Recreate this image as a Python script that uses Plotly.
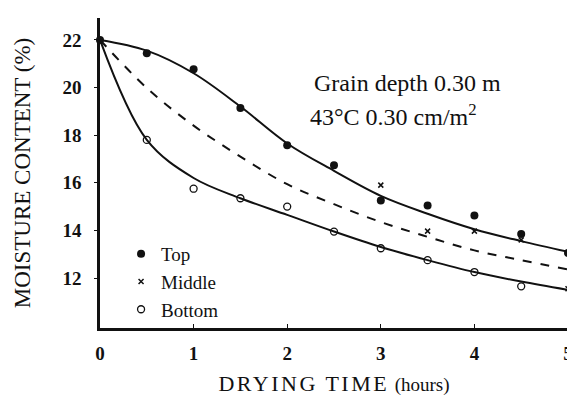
import plotly.graph_objs as go

# drying time (hours) for the smooth curves
time = [0, 0.5, 1, 1.5, 2, 2.5, 3, 3.5, 4, 4.5, 5]
top_curve = [22.0, 21.55, 20.6, 19.2, 17.65, 16.5, 15.45, 14.7, 14.05, 13.55, 13.1]
middle_curve = [22.0, 19.98, 18.4, 17.1, 15.94, 15.1, 14.35, 13.73, 13.16, 12.75, 12.36]
bottom_curve = [22.0, 17.8, 16.2, 15.35, 14.65, 13.95, 13.3, 12.75, 12.25, 11.85, 11.5]

# measured points
top_t = [0, 0.5, 1, 1.5, 2, 2.5, 3, 3.5, 4, 4.5, 5]
top_mc = [22.0, 21.44, 20.77, 19.14, 17.58, 16.74, 15.26, 15.05, 14.63, 13.85, 13.05]
mid_t = [3, 3.5, 4, 4.5, 5]
mid_mc = [15.9, 13.97, 13.97, 13.6, 11.55]
bot_t = [0.5, 1, 1.5, 2, 2.5, 3, 3.5, 4, 4.5]
bot_mc = [17.8, 15.75, 15.35, 15.0, 13.95, 13.25, 12.75, 12.25, 11.65]

y_ticks = [12, 14, 16, 18, 20, 22]
x_ticks = [0, 1, 2, 3, 4, 5]

serif = 'Liberation Serif'
ink = '#111111'


def curve(y, dash):
    return go.Scatter(x=time, y=y, mode='lines', showlegend=False,
                      line=dict(color=ink, width=2, dash=dash, shape='spline', smoothing=1))


data = [
    curve(top_curve, 'solid'),
    curve(middle_curve, 'dash'),
    curve(bottom_curve, 'solid'),
    go.Scatter(x=top_t, y=top_mc, mode='markers', name='Top', cliponaxis=False,
               marker=dict(symbol='circle', size=8, color=ink)),
    go.Scatter(x=mid_t, y=mid_mc, mode='markers', name='Middle', cliponaxis=False,
               marker=dict(symbol='x-thin', size=5, color=ink, line=dict(color=ink, width=1.5))),
    go.Scatter(x=bot_t, y=bot_mc, mode='markers', name='Bottom', cliponaxis=False,
               marker=dict(symbol='circle-open', size=7, color=ink, line=dict(width=1.3))),
]

# the page body adds an 8px offset, so the figure is 8px smaller than the window
layout = go.Layout(
    width=567, height=390,
    margin=dict(l=92, r=7, t=10, b=70),
    paper_bgcolor='white', plot_bgcolor='white',
    font=dict(family=serif, color=ink, size=17),
    showlegend=True,
    legend=dict(x=0.045, y=0.30, xanchor='left', yanchor='top', bgcolor='rgba(0,0,0,0)',
                font=dict(size=19, family=serif), itemwidth=30, tracegroupgap=0),
    xaxis=dict(range=[0, 5], tickvals=x_ticks, automargin=False,
               showgrid=False, zeroline=False, showline=True, linecolor=ink, linewidth=2.5,
               ticks='inside', ticklen=4, tickcolor=ink, ticklabelstandoff=6,
               tickfont=dict(size=19, family=serif, weight='bold'),
               title=dict(text='<span style="letter-spacing:2.5px">DRYING TIME</span> '
                               '<span style="font-size:19px">(hours)</span>',
                          font=dict(size=22, family=serif), standoff=14)),
    yaxis=dict(range=[9.9, 22.92], tickvals=y_ticks, automargin=False,
               showgrid=False, zeroline=False, showline=True, linecolor=ink, linewidth=2.5,
               ticks='outside', ticklen=3, tickcolor=ink, ticklabelstandoff=9,
               tickfont=dict(size=19, family=serif, weight='bold'),
               title=dict(text='MOISTURE CONTENT (%)', font=dict(size=23, family=serif), standoff=26)),
    annotations=[
        dict(x=0.453, y=0.79, xref='paper', yref='paper', xanchor='left', yanchor='middle',
             showarrow=False, text='Grain depth 0.30 m', font=dict(size=24, family=serif)),
        dict(x=0.444, y=0.688, xref='paper', yref='paper', xanchor='left', yanchor='middle',
             showarrow=False, text='43°C 0.30 cm/m<sup>2</sup>', font=dict(size=24, family=serif)),
    ],
)

fig = go.Figure(data=data, layout=layout)
fig.write_html("out.html")
